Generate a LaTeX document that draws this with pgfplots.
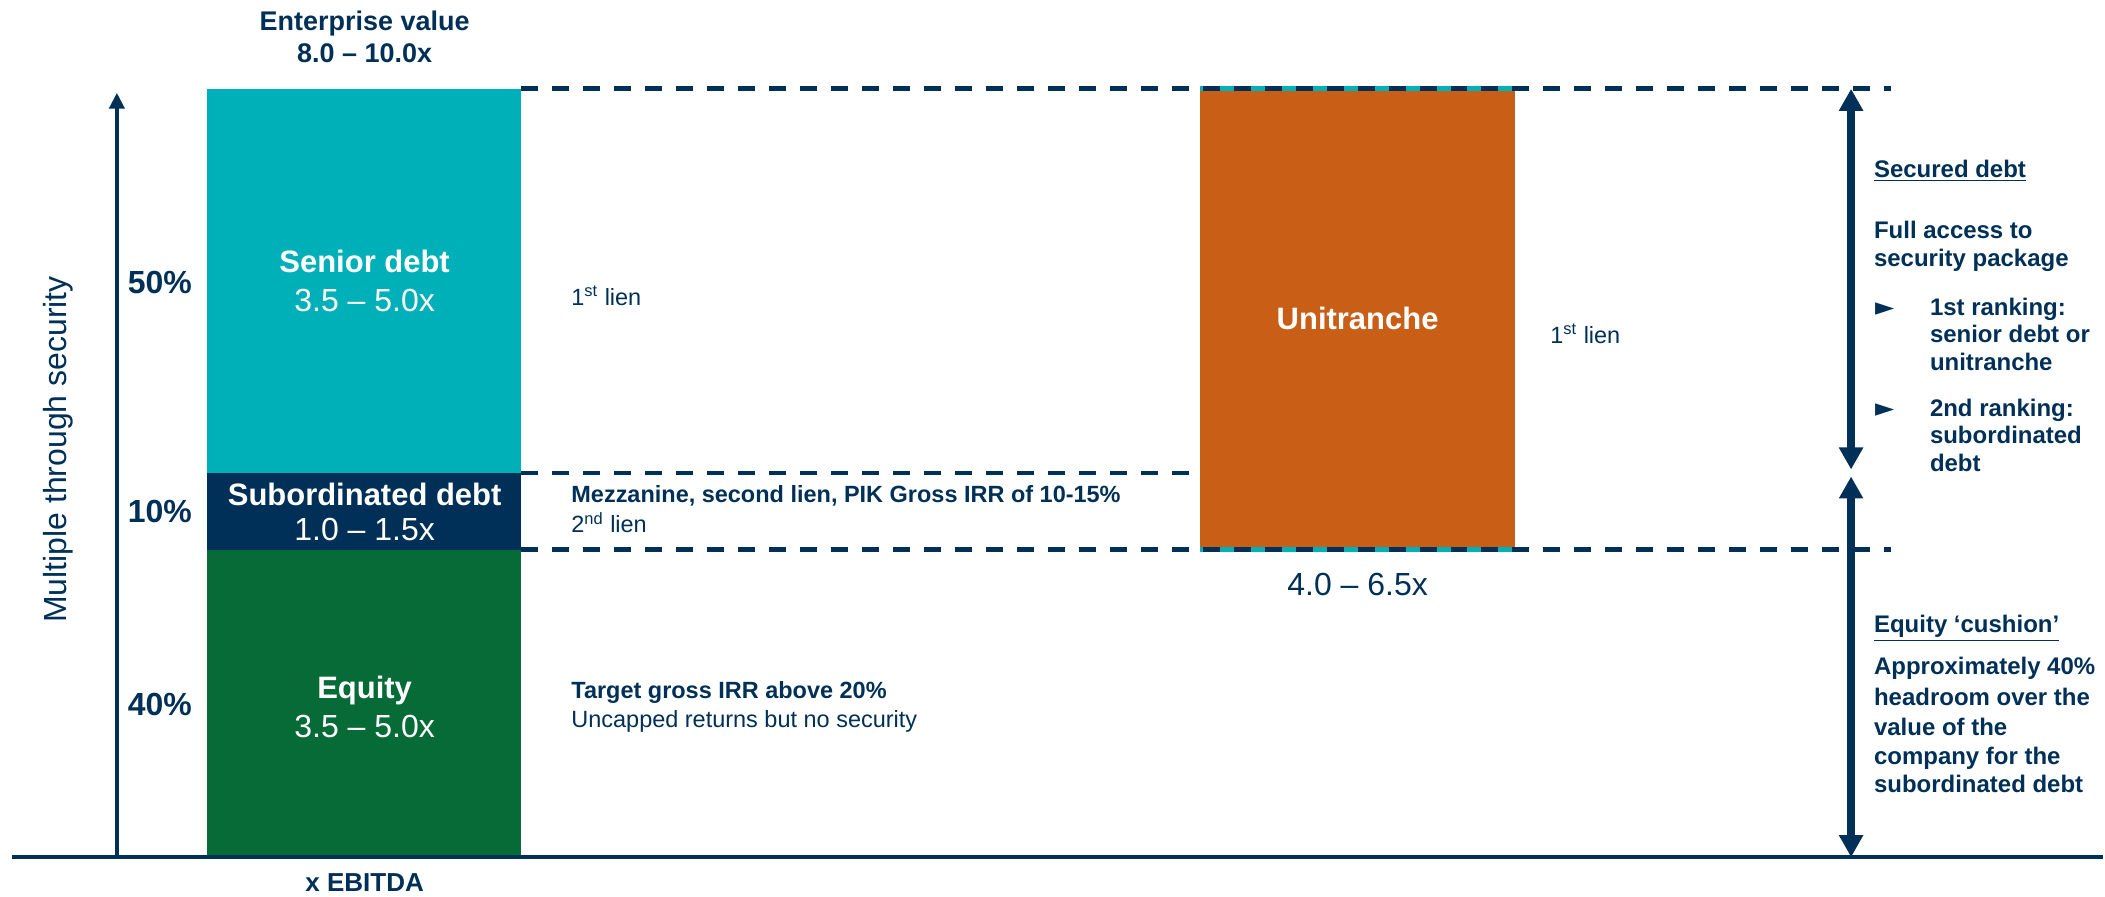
\documentclass[border=0pt]{standalone}
\usepackage{fontspec}
\setmainfont{Liberation Sans}
\newfontfamily\dejavu{DejaVu Sans}
\usepackage{pgfplots}
\pgfplotsset{compat=1.18}
\usetikzlibrary{arrows.meta}
\definecolor{navy}{RGB}{0,48,87}
\definecolor{cteal}{RGB}{0,176,185}
\definecolor{cgreen}{RGB}{7,107,56}
\definecolor{corange}{RGB}{201,94,22}
\tikzset{
  lbl/.style={inner sep=0pt, outer sep=0pt, text=navy},
  wlbl/.style={inner sep=0pt, outer sep=0pt, text=white},
  fbar/.style={font=\fontsize{15.5}{18}\selectfont\bfseries},
  freg/.style={font=\fontsize{16}{19}\selectfont},
  fmid/.style={font=\fontsize{11.75}{14}\selectfont},
  fmidb/.style={font=\fontsize{11.75}{14}\selectfont\bfseries},
  fright/.style={font=\fontsize{12}{14}\selectfont\bfseries},
}
\begin{document}
\begin{tikzpicture}
\begin{axis}[width=1052.5pt, height=448.5pt, scale only axis,
  xmin=0, xmax=2105, ymin=-5.07, ymax=111.57,
  hide axis, clip=false]
% bounding box
\addplot[draw=none] coordinates {(0,-5.07) (2105,111.57)};

% capital structure bar (share of enterprise value, %)
\addplot[fill=cgreen, draw=none] coordinates {(207,0) (522,0) (522,40) (207,40)} -- cycle;
\addplot[fill=navy, draw=none] coordinates {(207,40) (522,40) (522,50) (207,50)} -- cycle;
\addplot[fill=cteal, draw=none] coordinates {(207,50) (522,50) (522,100) (207,100)} -- cycle;
% unitranche
\addplot[fill=corange, draw=none] coordinates {(1201,40) (1517,40) (1517,100) (1201,100)} -- cycle;
\addplot[cteal, line width=2.4pt] coordinates {(1201,100) (1517,100)};
\addplot[cteal, line width=2.4pt] coordinates {(1201,40) (1517,40)};

% dashed guide lines
\addplot[navy, line width=2.4pt, dash pattern=on 8.5pt off 7pt] coordinates {(522,100) (1893,100)};
\addplot[navy, line width=2.4pt, dash pattern=on 8.5pt off 7pt] coordinates {(522,50) (1201,50)};
\addplot[navy, line width=2.4pt, dash pattern=on 8.5pt off 7pt] coordinates {(522,40) (1893,40)};

% axes
\addplot[navy, line width=2.2pt] coordinates {(12,0) (2105,0)};
\addplot[navy, line width=2pt, -{Triangle[length=8pt,width=7.5pt]}] coordinates {(117,0) (117,99.5)};

% right arrows
\addplot[navy, line width=4pt, {Triangle[length=11pt,width=11.5pt]}-{Triangle[length=11pt,width=11.5pt]}] coordinates {(1853,50.46) (1853,100)};
\addplot[navy, line width=4pt, {Triangle[length=11pt,width=11.5pt]}-{Triangle[length=11pt,width=11.5pt]}] coordinates {(1853,0) (1853,49.54)};

% titles
\node[lbl, anchor=base, font=\fontsize{13.5}{16}\selectfont\bfseries] at (365,107.58) {Enterprise value};
\node[lbl, anchor=base, font=\fontsize{13.5}{16}\selectfont\bfseries] at (365,103.42) {8.0 – 10.0x};
\node[lbl, anchor=base, font=\fontsize{13}{16}\selectfont\bfseries] at (365,-4.46) {x EBITDA};
\node[lbl, anchor=center, rotate=90, freg] at (58,53.06) {Multiple through security};

% percentages
\node[lbl, anchor=base, font=\fontsize{16}{19}\selectfont\bfseries] at (160,73.41) {50\%};
\node[lbl, anchor=base, font=\fontsize{16}{19}\selectfont\bfseries] at (160,43.5) {10\%};
\node[lbl, anchor=base, font=\fontsize{16}{19}\selectfont\bfseries] at (160,18.41) {40\%};

% bar labels
\node[wlbl, anchor=base, fbar] at (365,76.06) {Senior debt};
\node[wlbl, anchor=base, freg] at (365,71.07) {3.5 – 5.0x};
\node[wlbl, anchor=base, fbar] at (365,45.76) {Subordinated debt};
\node[wlbl, anchor=base, freg] at (365,41.16) {1.0 – 1.5x};
\node[wlbl, anchor=base, fbar] at (365,20.67) {Equity};
\node[wlbl, anchor=base, freg] at (365,15.55) {3.5 – 5.0x};
\node[wlbl, anchor=base, fbar] at (1359,68.65) {Unitranche};
\node[lbl, anchor=base, freg] at (1359,34.01) {4.0 – 6.5x};

% middle descriptions
\node[lbl, anchor=base west, fmid] at (572,71.86) {1\textsuperscript{st} lien};
\node[lbl, anchor=base west, fmidb] at (572,46.11) {Mezzanine, second lien, PIK Gross IRR of 10-15\%};
\node[lbl, anchor=base west, fmid] at (572,42.21) {2\textsuperscript{nd} lien};
\node[lbl, anchor=base west, fmidb] at (572,20.63) {Target gross IRR above 20\%};
\node[lbl, anchor=base west, fmid] at (572,16.86) {Uncapped returns but no security};
\node[lbl, anchor=base west, fmid] at (1552,66.92) {1\textsuperscript{st} lien};

% right panel
\node[lbl, anchor=base west, fright] at (1876,88.48) {\underline{Secured debt}};
\node[lbl, anchor=base west, fright] at (1876,80.54) {Full access to};
\node[lbl, anchor=base west, fright] at (1876,76.9) {security package};
\node[lbl, anchor=base west, font=\fontsize{12.5}{14}\selectfont\dejavu] at (1877,70.45) {►};
\node[lbl, anchor=base west, fright] at (1932,70.53) {1st ranking:};
\node[lbl, anchor=base west, fright] at (1932,67.02) {senior debt or};
\node[lbl, anchor=base west, fright] at (1932,63.38) {unitranche};
\node[lbl, anchor=base west, font=\fontsize{12.5}{14}\selectfont\dejavu] at (1877,57.32) {►};
\node[lbl, anchor=base west, fright] at (1932,57.4) {2nd ranking:};
\node[lbl, anchor=base west, fright] at (1932,53.89) {subordinated};
\node[lbl, anchor=base west, fright] at (1932,50.25) {debt};
\node[lbl, anchor=base west, fright] at (1876,29.18) {\underline{Equity ‘cushion’}};
\node[lbl, anchor=base west, fright] at (1876,23.72) {Approximately 40\%};
\node[lbl, anchor=base west, fright] at (1876,19.69) {headroom over the};
\node[lbl, anchor=base west, fright] at (1876,15.79) {value of the};
\node[lbl, anchor=base west, fright] at (1876,12.01) {company for the};
\node[lbl, anchor=base west, fright] at (1876,8.37) {subordinated debt};
\end{axis}
\end{tikzpicture}
\end{document}
